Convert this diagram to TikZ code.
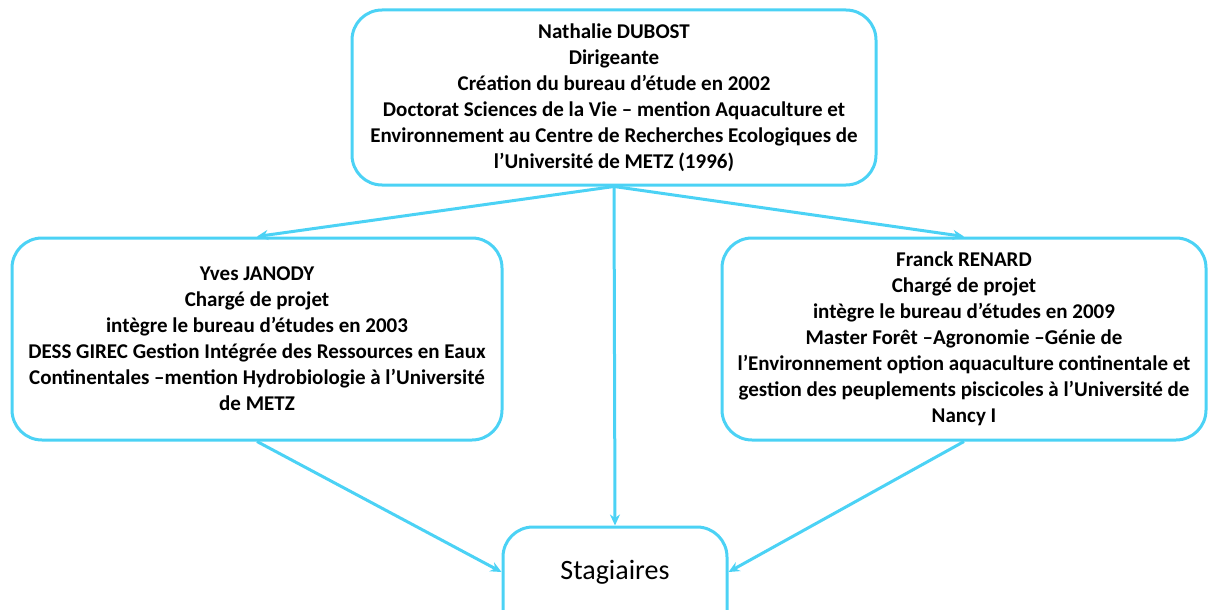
\documentclass[tikz,border=0pt]{standalone}
\usepackage{fontspec}
\setmainfont{Carlito}
\usetikzlibrary{arrows.meta}
\definecolor{cyanline}{RGB}{75,210,245}

\begin{document}
\begin{tikzpicture}[x=1pt, y=-1pt,
  box/.style={draw=cyanline, line width=3pt, rounded corners=30pt, align=center, inner sep=0pt, font=\fontsize{21}{26}\selectfont\bfseries},
  link/.style={draw=cyanline, line width=3pt, -{Stealth[length=11pt,width=10pt]}}]
\useasboundingbox (0,0) rectangle (1208,610);
\node[box, name=dir, minimum width=524pt, minimum height=175pt] at (614,97.5) {Nathalie DUBOST\\Dirigeante\\Création du bureau d’étude en 2002\\Doctorat Sciences de la Vie – mention Aquaculture et\\Environnement au Centre de Recherches Ecologiques de\\l’Université de METZ (1996)};
\node[box, name=yj, minimum width=490pt, minimum height=202pt] at (257,339) {Yves JANODY\\Chargé de projet\\intègre le bureau d'études en 2003\\DESS GIREC Gestion Intégrée des Ressources en Eaux\\Continentales –mention Hydrobiologie à l’Université\\de METZ};
\node[box, name=fr, minimum width=484pt, minimum height=202pt] at (964,339) {Franck RENARD\\Chargé de projet\\intègre le bureau d'études en 2009\\Master Forêt –Agronomie –Génie de\\l’Environnement option aquaculture continentale et\\gestion des peuplements piscicoles à l’Université de\\Nancy I};
\node[box, name=st, minimum width=224pt, minimum height=120pt, font=\fontsize{28}{32}\selectfont] at (615,587) {};
\node[name=stt, font=\fontsize{28}{32}\selectfont] at (615,572) {Stagiaires};
\draw[link] (dir.south) -- (yj.north);
\draw[link] (dir.south) -- (fr.north);
\draw[link] (dir.south) -- (st.north);
\draw[link] (yj.south) -- (st.west |- stt);
\draw[link] (fr.south) -- (st.east |- stt);
\end{tikzpicture}
\end{document}
